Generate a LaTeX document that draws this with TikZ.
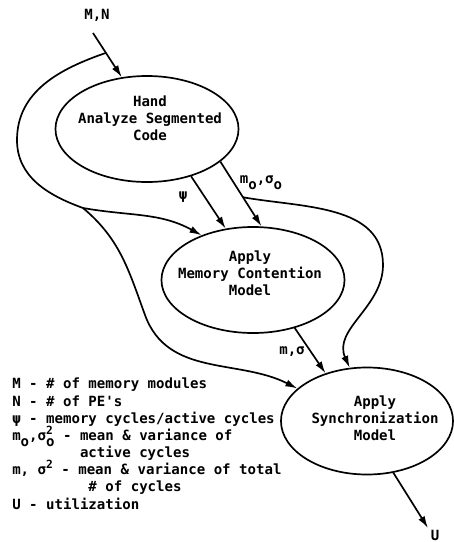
\documentclass[tikz,border=0pt]{standalone}
\usepackage{fontspec}
\setmonofont{DejaVu Sans Mono}
\usepackage{tikz}
\usetikzlibrary{shapes.geometric, arrows.meta, calc}

\newcommand{\lo}[1]{\smash{\raisebox{-0.75ex}{#1}}}
\newcommand{\hi}[1]{\smash{\raisebox{0.8ex}{\fontsize{8}{8}\selectfont #1}}}

\begin{document}
\begin{tikzpicture}[
    x=0.025cm, y=0.025cm,
    font=\fontsize{10}{12.2}\selectfont\ttfamily\bfseries,
    proc/.style={ellipse, draw, line width=1.2pt, minimum width=4.575cm, minimum height=2.65cm},
    txt/.style={align=center, inner sep=0pt},
    arr/.style={-{Latex[length=3mm, width=1.8mm]}, line width=1.2pt},
    flow/.style={line width=1.2pt}
]
\useasboundingbox (0,0) rectangle (454,-542);

\node[proc] (hand) at (147,-129) {};
\node[proc] (mem) at (253,-280) {};
\node[proc, minimum width=4.3cm, minimum height=2.675cm] (sync) at (367,-421) {};

\node[txt] (handtxt) at ($(hand)+(3,11)$) {Hand\\Analyze Segmented\\Code};
\node[txt] (memtxt) at ($(mem)+(-3,7)$) {Apply\\Memory Contention\\Model};
\node[txt] (synctxt) at ($(sync)+(8,3)$) {Apply\\Synchronization\\Model};

\node (mn) at (97,-15) {M,N};
\node (psi) at (183,-197) {ψ};
\node (mo) at (261,-181) {m\lo{o},σ\lo{o}};
\node (msig) at (292,-352) {m,σ};
\node (u) at (435,-535) {U};

\coordinate (mnin) at (93,-33);
\coordinate (uend) at (428,-528);
\coordinate (split) at (83,-208);
\coordinate (br1) at ($(mnin)!0.45!(hand.116)$);
\coordinate (br2) at ($(hand.-24)!0.55!(mem.81)$);

\draw[arr] (mnin) -- (hand.116);
\draw[arr] (hand.-47) -- (mem.118);
\draw[arr] (hand.-24) -- (mem.81);
\draw[arr] (mem.-49) -- (sync.131);
\draw[arr] (sync.-63) -- (uend);

% loops that bypass a stage
\draw[flow] (br1) to[out=199,in=90] (17,-140) to[out=-90,in=160] (split);
\draw[arr] (split) to[out=-10,in=151] (mem.139);
\draw[arr] (split) to[out=-40,in=110] (145,-315) to[out=-70,in=153] (sync.155);
\draw[arr] (br2) to[out=-10,in=90] (383,-265) to[out=-90,in=114] (sync.108);

\node[anchor=north west, align=left, inner sep=0pt] (legend) at (12,-378) {%
M - \# of memory modules\\
N - \# of PE's\\
ψ - memory cycles/active cycles\\
m\lo{o},σ\rlap{\hi{2}}\lo{o} - mean \& variance of\\
~~~~~~~~active cycles\\
m, σ\hi{2} - mean \& variance of total\\
~~~~~~~~~\# of cycles\\
U - utilization};
\end{tikzpicture}
\end{document}
